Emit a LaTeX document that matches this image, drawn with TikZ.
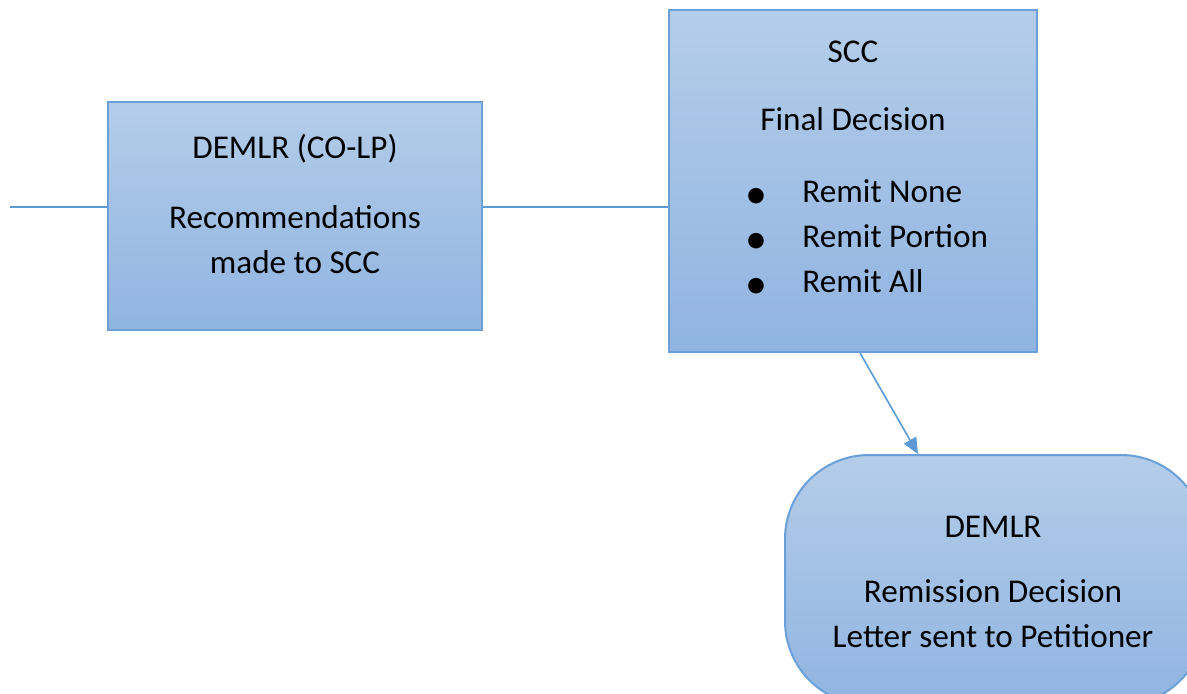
\documentclass[tikz,border=0pt]{standalone}
\usepackage{fontspec}
\setmainfont{Carlito}
\usetikzlibrary{arrows.meta}
\definecolor{boxtop}{HTML}{B4CDE9}
\definecolor{boxbot}{HTML}{90B4E1}
\definecolor{edge}{HTML}{6A9FD8}
\definecolor{wire}{HTML}{5B9BD5}
\newcommand{\blt}{\makebox[28.5pt][l]{\raisebox{-3pt}{\fontsize{22}{22}\selectfont •}}}
\tikzset{
  stagebox/.style={draw=edge, line width=1pt, top color=boxtop, bottom color=boxbot, inner sep=0pt},
  stagetext/.style={align=center, font=\fontsize{16.6}{22.5}\selectfont, inner sep=0pt},
  link/.style={draw=wire, line width=0.8pt}
}
\begin{document}
\begin{tikzpicture}[x=0.5pt,y=-0.5pt]
\useasboundingbox (0,0) rectangle (1187,693);
\clip (0,0) rectangle (1187,693);
%
\node[stagebox, minimum width=187pt, minimum height=114pt] (dem) at (295,216) {};
\node[stagetext] (demtxt) at (295,204) {DEMLR (CO-LP)\\[12.5pt]Recommendations\\made to SCC};
%
\node[stagebox, minimum width=184pt, minimum height=171pt] (scc) at (853,181) {};
\node[stagetext] (scctxt) at (853,86) {SCC\\[11.5pt]Final Decision};
\node[stagetext, align=left, anchor=west] (scclist) at (745,239)
  {\blt Remit None\\\blt Remit Portion\\\blt Remit All};
%
\node[stagebox, rounded corners=42pt, minimum width=210pt, minimum height=125pt] (letter) at (995,580) {};
\node[stagetext] (lettertxt) at (993,582) {DEMLR\\[10pt]Remission Decision\\Letter sent to Petitioner};
%
\coordinate (start) at (10,207);
\draw[link] (start) -- (start -| dem.west);
\draw[link] (dem.east |- start) -- (scc.west |- start);
\draw[link, -{Triangle[length=8pt,width=7pt]}, wire] ([xshift=3.5pt]scc.south) -- ([xshift=-38.5pt]letter.north);
\end{tikzpicture}
\end{document}
